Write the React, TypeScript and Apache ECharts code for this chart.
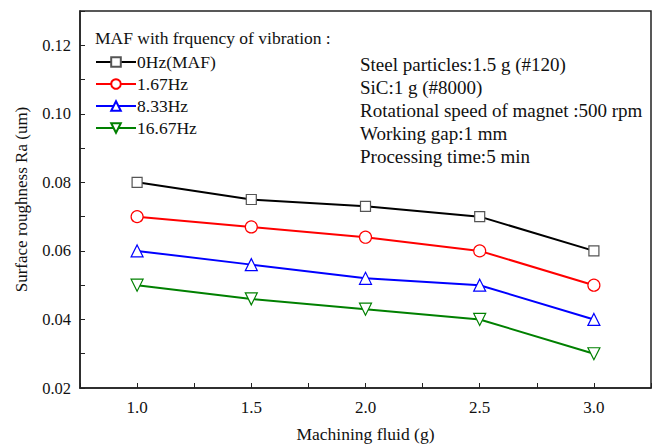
import React, { useEffect, useRef } from "react";
import * as echarts from "echarts";

const xValues = [1.0, 1.5, 2.0, 2.5, 3.0];
const seriesNames = ["0Hz(MAF)", "1.67Hz", "8.33Hz", "16.67Hz"];
const hz0 = [0.08, 0.075, 0.073, 0.07, 0.06];
const hz167 = [0.07, 0.067, 0.064, 0.06, 0.05];
const hz833 = [0.06, 0.056, 0.052, 0.05, 0.04];
const hz1667 = [0.05, 0.046, 0.043, 0.04, 0.03];
const seriesColors = ["#000000", "#ff0000", "#0000ff", "#008000"];
const seriesSymbols = ["rect", "circle", "triangle", "triangle"];
const seriesRotate = [0, 0, 0, 180];
const notes = [
  "Steel particles:1.5 g (#120)",
  "SiC:1 g (#8000)",
  "Rotational speed of magnet :500 rpm",
  "Working gap:1 mm",
  "Processing time:5 min",
];
const FONT = "'Liberation Serif', 'Times New Roman', serif";

export default function App() {
  const ref = useRef<HTMLDivElement>(null);
  useEffect(() => {
    if (!ref.current) return;
    const chart = echarts.init(ref.current, null, { renderer: "svg" });
    const allData = [hz0, hz167, hz833, hz1667];
    chart.setOption({
      animation: false,
      backgroundColor: "#ffffff",
      textStyle: { fontFamily: FONT },
      grid: {
        left: 80,
        top: 11,
        right: 3,
        bottom: 58,
        show: true,
        borderColor: "#222",
        borderWidth: 1.5,
      },
      title: {
        text: "MAF with frquency of vibration :",
        left: 95,
        top: 29,
        padding: 0,
        textStyle: { fontFamily: FONT, fontSize: 17.5, fontWeight: "normal", color: "#111" },
      },
      legend: {
        orient: "vertical",
        left: 95,
        top: 53,
        padding: 0,
        itemWidth: 40,
        itemHeight: 12,
        itemGap: 4,
        data: seriesNames,
        textStyle: { fontFamily: FONT, fontSize: 17.5, color: "#111", padding: [0, 0, 0, -4] },
      },
      graphic: [
        {
          type: "text",
          left: 360,
          top: 53,
          style: {
            text: notes.join("\n"),
            font: `19px ${FONT}`,
            lineHeight: 23,
            fill: "#111",
          },
        },
      ],
      xAxis: {
        type: "value",
        min: 0.75,
        max: 3.25,
        interval: 0.25,
        name: "Machining fluid (g)",
        nameLocation: "middle",
        nameGap: 37,
        nameTextStyle: { fontFamily: FONT, fontSize: 17.5, color: "#111" },
        axisLine: { lineStyle: { color: "#222", width: 1.5 } },
        axisTick: { inside: true, length: 5, lineStyle: { color: "#222" } },
        splitLine: { show: false },
        axisLabel: {
          fontFamily: FONT,
          fontSize: 17,
          color: "#111",
          margin: 11,
          formatter: (v: number) => {
            const r = Math.round(v * 100);
            if (r % 50 !== 0 || v < 0.99 || v > 3.01) return "";
            return v.toFixed(1);
          },
        },
      },
      yAxis: {
        type: "value",
        min: 0.02,
        max: 0.13,
        interval: 0.01,
        name: "Surface roughness Ra (um)",
        nameLocation: "middle",
        nameGap: 50,
        nameTextStyle: { fontFamily: FONT, fontSize: 17, color: "#111" },
        axisLine: { show: true, lineStyle: { color: "#222", width: 1.5 } },
        axisTick: { show: true, inside: true, length: 5, lineStyle: { color: "#222" } },
        splitLine: { show: false },
        axisLabel: {
          fontFamily: FONT,
          fontSize: 16.5,
          color: "#111",
          margin: 9,
          formatter: (v: number) => {
            const r = Math.round(v * 100);
            if (r % 2 !== 0 || r > 12) return "";
            return v.toFixed(2);
          },
        },
      },
      series: seriesNames.map((name, i) => ({
        name,
        type: "line",
        data: xValues.map((x, j) => [x, allData[i][j]]),
        symbol: seriesSymbols[i],
        symbolRotate: seriesRotate[i],
        symbolSize: i === 0 ? 10 : 12,
        color: seriesColors[i],
        lineStyle: { color: seriesColors[i], width: 2 },
        itemStyle: { color: "#ffffff", borderColor: i === 0 ? "#555" : seriesColors[i], borderWidth: 1.2 },
      })),
    });
    return () => chart.dispose();
  }, []);
  return <div ref={ref} style={{ width: 654, height: 448, position: "absolute", left: 0, top: 0 }} />;
}
